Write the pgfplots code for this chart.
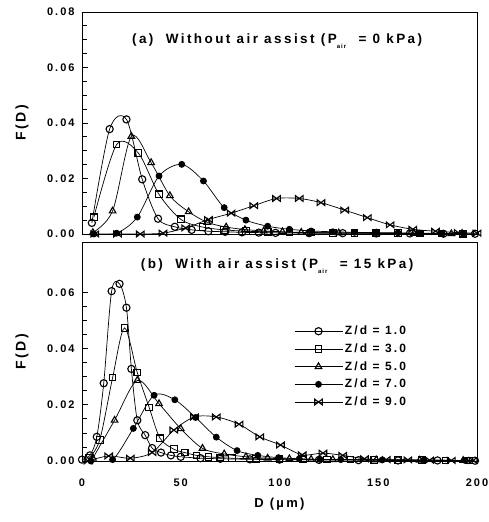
\documentclass[border=0pt]{standalone}
\usepackage{fontspec}
\setmainfont{Liberation Sans}[LetterSpace=18]
\usepackage{pgfplots}
\pgfplotsset{compat=1.18}

\pgfdeclareplotmark{bowtie}{%
  \pgfpathmoveto{\pgfqpoint{-\pgfplotmarksize}{-0.75\pgfplotmarksize}}%
  \pgfpathlineto{\pgfqpoint{\pgfplotmarksize}{0.75\pgfplotmarksize}}%
  \pgfpathlineto{\pgfqpoint{\pgfplotmarksize}{-0.75\pgfplotmarksize}}%
  \pgfpathlineto{\pgfqpoint{-\pgfplotmarksize}{0.75\pgfplotmarksize}}%
  \pgfpathclose
  \pgfusepathqstroke}

\pgfplotsset{
  s1/.style={black, line width=0.7pt, smooth, mark=o, mark size=3.6pt, mark options={line width=1.1pt}},
  s2/.style={black, line width=0.7pt, smooth, mark=square, mark size=3.3pt, mark options={line width=1.1pt}},
  s3/.style={black, line width=0.7pt, smooth, mark=triangle, mark size=3.8pt, mark options={line width=1.1pt}},
  s4/.style={black, line width=0.7pt, smooth, mark=*, mark size=3pt, mark options={line width=0.8pt, fill=black}},
  s5/.style={black, line width=0.7pt, smooth, mark=bowtie, mark size=3.8pt, mark options={line width=1.1pt}},
  common/.style={
    scale only axis, width=395pt,
    xmin=0, xmax=200, ymin=0,
    axis line style={line width=0.9pt},
    ytick pos=left, tick align=inside,
    minor y tick num=3,
    major tick length=6pt, minor tick length=5pt,
    every tick/.style={black, line width=0.8pt},
    xtick={0,50,100,150,200},
    xtick style={draw=none},
    scaled y ticks=false,
    /pgf/number format/assume math mode=true,
    yticklabel style={/pgf/number format/fixed, /pgf/number format/fixed zerofill,
      /pgf/number format/precision=2, font=\fontsize{11}{11}\selectfont\bfseries, xshift=-4pt},
    xticklabel style={font=\fontsize{11}{11}\selectfont\bfseries, yshift=-14pt},
    every axis y label/.style={at={(axis description cs:-0.152,0.5)}, rotate=90, anchor=center,
      font=\fontsize{14}{14}\selectfont\bfseries},
    every axis x label/.style={at={(axis description cs:0.5,0)}, yshift=-43pt, anchor=center,
      font=\fontsize{13}{13}\selectfont\bfseries},
    clip=true,
  },
}

\begin{document}
\begin{tikzpicture}
\useasboundingbox (-82pt,-61pt) rectangle (407pt,461pt);

% ---------------- panel (a) ----------------
\begin{axis}[common, at={(0pt,227pt)}, height=222pt, ymax=0.08,
  ytick={0,0.02,0.04,0.06,0.08}, xticklabels={}, ylabel={F(D)}]
\addplot[s1] coordinates {(5,0.004) (14,0.0378) (22.5,0.0413) (30.5,0.0197) (38.5,0.0055) (47,0.0026)
  (55.5,0.0015) (64,0.001) (72.5,0.0008) (81,0.0006) (89.5,0.0005) (98,0.0004) (115,0.0003)
  (132,0.0003) (149,0.0002) (166,0.0002) (183,0.0001) (199,0.0001)};
\addplot[s2] coordinates {(6,0.006) (17.5,0.0322) (28.5,0.0292) (39,0.0143) (50,0.0053) (61,0.0025)
  (72,0.0015) (83,0.001) (94,0.0008) (105,0.0006) (116,0.0005) (127,0.0004) (138,0.0004)
  (149,0.0003) (160,0.0003) (171,0.0002) (182,0.0002) (193,0.0001)};
\addplot[s3] coordinates {(5.5,0.0005) (15.5,0.0083) (25,0.0352) (35,0.0257) (44.5,0.0138) (54,0.0080)
  (63.5,0.0042) (73,0.0025) (82.5,0.0016) (92,0.0011) (101.5,0.0008) (111,0.0006) (130,0.0004)
  (149,0.0003) (168,0.0002) (187,0.0001)};
\addplot[s4] coordinates {(6,0) (17.5,0.0003) (28,0.0061) (39,0.0209) (50.5,0.0251) (61.5,0.0191)
  (72,0.0095) (83,0.005) (94,0.0028) (105,0.0017) (116,0.0011) (127,0.0008) (138,0.0006)
  (149,0.0005) (160,0.0004) (171,0.0003) (182,0.0002) (193,0.0002)};
\addplot[s5] coordinates {(6.5,0) (18,0) (29.5,0) (41,0.0003) (52.5,0.0022) (64,0.0052) (75.5,0.0075)
  (87,0.0102) (98.5,0.0128) (110,0.0128) (121,0.0113) (133,0.0086) (144.5,0.0059) (156,0.0033)
  (167.5,0.0017) (179,0.0010) (190.5,0.0005) (200,0.0003)};
\node[anchor=base, font=\fontsize{13.5}{14}\selectfont\bfseries] at (axis description cs:0.494,0.86)
  {(a)\ \ Without air assist (P\raisebox{-5pt}{\fontsize{6}{6}\selectfont air}\ \ = 0 kPa)};
\end{axis}

% ---------------- panel (b) ----------------
\begin{axis}[common, at={(0pt,0pt)}, height=219pt, ymax=0.078,
  ytick={0,0.02,0.04,0.06}, xlabel={D (µm)}, ylabel={F(D)},
  legend style={at={(0.529,0.635)}, anchor=north west, draw=none, fill=none,
    font=\fontsize{12}{12}\selectfont\bfseries, row sep=3.5pt},
  legend cell align=left,
  legend image code/.code={\draw[mark repeat=2,mark phase=2] plot coordinates {(0pt,0pt) (24pt,0pt) (48pt,0pt)};}]
\addplot[s1] coordinates {(0,0.0005) (4,0.002) (7.5,0.0086) (11,0.0277) (15,0.0605) (19,0.0631)
  (22.5,0.0546) (25,0.0328) (28,0.0145) (32,0.0092) (35.5,0.0046) (40,0.003) (45,0.002) (50,0.0015)
  (60,0.001) (70,0.0008) (85,0.0006) (100,0.0005) (120,0.0004) (140,0.0003) (160,0.0002)
  (180,0.0002) (199,0.0001)};
\addplot[s2] coordinates {(3.5,0.001) (9,0.0075) (15.5,0.0297) (21.5,0.0474) (28,0.0315) (34,0.0191)
  (39.5,0.0081) (46.5,0.0042) (52,0.003) (58,0.002) (64,0.0015) (70,0.0012) (76,0.001) (88,0.0008)
  (100,0.0007) (112,0.0006) (124,0.0005) (136,0.0005) (148,0.0004) (160,0.0003) (172,0.0003)
  (184,0.0002) (196,0.0002)};
\addplot[s3] coordinates {(5.5,0.001) (16.5,0.0145) (28,0.0287) (39,0.0204) (50,0.0115) (61,0.0045)
  (72,0.0025) (83,0.0015) (94,0.001) (105,0.0008) (116,0.0006) (127,0.0005) (149,0.0004)
  (171,0.0003) (193,0.0002)};
\addplot[s4] coordinates {(4.5,0) (15.5,0.0005) (26,0.0116) (36.5,0.0234) (47,0.0218) (57.5,0.0155)
  (68,0.0085) (78.5,0.0037) (89,0.0020) (99.5,0.0012) (110,0.0008) (120.5,0.0006) (131,0.0005)
  (152,0.0004) (173,0.0003) (194,0.0002)};
\addplot[s5] coordinates {(3,0) (13.5,0.0018) (24.5,0.001) (35.5,0.003) (46.5,0.011) (57,0.0157)
  (68,0.0157) (79.5,0.0131) (90,0.0086) (100.5,0.0057) (111.5,0.0022) (122,0.0028) (132,0.0020)
  (143,0.0008) (154,0.0005) (165,0.0004) (176,0.0003) (187,0.0002) (198,0.0002)};
\legend{Z/d = 1.0, Z/d = 3.0, Z/d = 5.0, Z/d = 7.0, Z/d = 9.0}
\node[anchor=base, font=\fontsize{13.5}{14}\selectfont\bfseries] at (axis description cs:0.494,0.88)
  {(b)\ \ With air assist (P\raisebox{-5pt}{\fontsize{6}{6}\selectfont air}\ \ = 15 kPa)};
\end{axis}
\end{tikzpicture}
\end{document}
